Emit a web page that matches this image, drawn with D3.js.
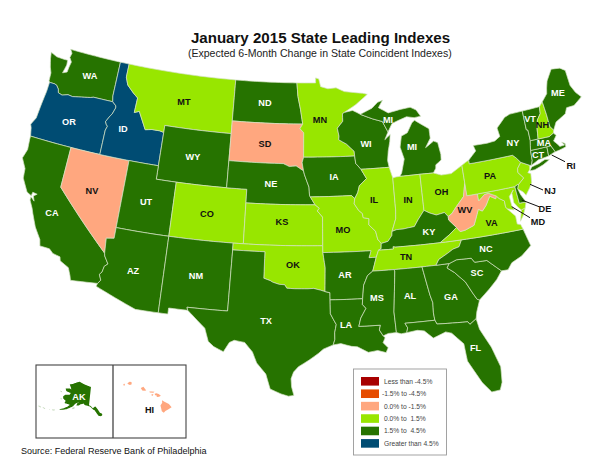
<!DOCTYPE html>
<html><head><meta charset="utf-8">
<script src="https://cdn.jsdelivr.net/npm/d3@7/dist/d3.min.js"></script>
<style>
html,body{margin:0;padding:0;background:#fff}
svg{display:block}
text{font-family:"Liberation Sans",Arial,sans-serif}
</style></head><body>
<svg id="c" width="600" height="463"></svg>
<script>
const titleText = "January 2015 State Leading Indexes";
const subtitleText = "(Expected 6-Month Change in State Coincident Indexes)";
const sourceText = "Source: Federal Reserve Bank of Philadelphia";
const classLabels = ["Less than -4.5%","-1.5% to -4.5%","0.0% to -1.5%","0.0% to  1.5%","1.5% to  4.5%","Greater than 4.5%"];
const classColors = ["#A80000","#E64C00","#FFA77F","#98E600","#267300","#004C73"];
const stateCodes = ["WA","OR","CA","NV","ID","MT","WY","UT","AZ","CO","NM","ND","SD","NE","KS","OK","TX","MN","IA","MO","AR","LA","WI","IL","MI","IN","OH","KY","TN","MS","AL","GA","FL","SC","NC","VA","WV","MD","DE","PA","NJ","NY","CT","RI","MA","VT","NH","ME"];
const stateClass = [4,5,4,2,5,3,4,4,4,3,4,4,2,4,3,3,4,3,4,3,4,4,4,3,4,3,3,4,3,4,4,4,4,4,4,3,2,3,4,3,3,4,4,4,4,4,3,4];

const geoWA=[[-124.73,48.38],[-124.6,47.9],[-124.35,47.3],[-124.1,46.9],[-124.05,46.3],[-123.95,46.2],[-123.4,46.2],[-123.15,46.15],[-122.85,45.9],[-122.75,45.65],[-122.3,45.55],[-121.7,45.7],[-121.2,45.65],[-120.6,45.74],[-119.95,45.83],[-119.3,45.93],[-119,46],[-116.92,46],[-117.04,46.42],[-117.04,49],[-122.76,49],[-122.5,48.75],[-122.6,48.4],[-122.3,48.1],[-122.4,47.7],[-122.45,47.3],[-122.9,47.15],[-122.7,47.8],[-122.75,48.15],[-123.2,48.15],[-124,48.17]];
const geoOR=[[-123.95,46.2],[-123.4,46.2],[-123.15,46.15],[-122.85,45.9],[-122.75,45.65],[-122.3,45.55],[-121.7,45.7],[-121.2,45.65],[-120.6,45.74],[-119.95,45.83],[-119.3,45.93],[-119,46],[-116.92,46],[-116.5,45.75],[-116.47,45.6],[-116.7,45.1],[-116.85,44.95],[-117.2,44.45],[-117.05,44.25],[-116.9,44.15],[-117.03,43.83],[-117.03,42],[-120,42],[-124.21,42],[-124.4,42.6],[-124.55,42.84],[-124.2,43.4],[-124.1,44.5],[-123.97,45.5]];
const geoCA=[[-124.21,42],[-120,42],[-120,39],[-114.63,35],[-114.57,34.8],[-114.15,34.27],[-114.43,34.05],[-114.53,33.6],[-114.72,33.4],[-114.5,33],[-114.72,32.72],[-117.12,32.53],[-117.25,32.85],[-117.55,33.4],[-118.4,33.75],[-118.5,34.03],[-119.2,34.15],[-119.6,34.42],[-120.5,34.45],[-120.65,34.9],[-121.35,35.7],[-121.9,36.6],[-122.1,36.96],[-122.5,37.5],[-122.5,37.75],[-122.1,37.5],[-122.3,37.85],[-122,38.05],[-122.45,38.1],[-122.5,37.83],[-122.98,38],[-123.7,38.9],[-123.8,39.6],[-124.35,40.3],[-124.1,41],[-124.2,41.75]];
const geoNV=[[-120,42],[-117.03,42],[-114.04,42],[-114.04,37],[-114.04,36.2],[-114.75,36.1],[-114.63,35],[-120,39]];
const geoID=[[-117.04,49],[-116.05,49],[-116.05,48],[-115.72,47.45],[-114.95,46.95],[-114.4,46.65],[-114.45,45.55],[-113.95,45.7],[-113.45,45.05],[-113,44.45],[-112.3,44.55],[-111.5,44.55],[-111.05,44.48],[-111.05,42],[-114.04,42],[-117.03,42],[-117.03,43.83],[-116.9,44.15],[-117.05,44.25],[-117.2,44.45],[-116.85,44.95],[-116.7,45.1],[-116.47,45.6],[-116.5,45.75],[-116.92,46],[-117.04,46.42]];
const geoMT=[[-116.05,49],[-104.05,49],[-104.05,45.94],[-104.05,45],[-111.05,45],[-111.05,44.48],[-111.5,44.55],[-112.3,44.55],[-113,44.45],[-113.45,45.05],[-113.95,45.7],[-114.45,45.55],[-114.4,46.65],[-114.95,46.95],[-115.72,47.45],[-116.05,48]];
const geoWY=[[-111.05,45],[-104.05,45],[-104.05,43],[-104.05,41],[-109.05,41],[-111.05,41],[-111.05,42],[-111.05,44.48]];
const geoUT=[[-114.04,42],[-111.05,42],[-111.05,41],[-109.05,41],[-109.05,37],[-114.04,37]];
const geoAZ=[[-114.04,37],[-109.05,37],[-109.05,31.33],[-111.07,31.33],[-114.81,32.5],[-114.72,32.72],[-114.5,33],[-114.72,33.4],[-114.53,33.6],[-114.43,34.05],[-114.15,34.27],[-114.57,34.8],[-114.63,35],[-114.75,36.1],[-114.04,36.2]];
const geoCO=[[-109.05,41],[-104.05,41],[-102.05,41],[-102.05,40],[-102.05,37],[-103,37],[-109.05,37]];
const geoNM=[[-109.05,37],[-103,37],[-103,36.5],[-103.05,32],[-106.62,32],[-106.53,31.78],[-108.21,31.78],[-108.21,31.33],[-109.05,31.33]];
const geoTX=[[-103,36.5],[-100,36.5],[-100,34.56],[-99.4,34.4],[-99.2,34.3],[-98.6,34.15],[-98.1,34.13],[-97.9,33.88],[-97.2,33.85],[-96.6,33.85],[-96,33.85],[-95.5,33.88],[-94.9,33.75],[-94.48,33.64],[-94.04,33.55],[-94.04,33.02],[-94.04,32],[-93.8,31.6],[-93.55,31.2],[-93.7,30.6],[-93.7,30.1],[-93.85,29.7],[-94.7,29.4],[-95.1,29.1],[-95.9,28.6],[-96.8,28.1],[-97.2,27.7],[-97.4,27.2],[-97.35,26.6],[-97.15,25.96],[-97.6,25.9],[-98.2,26.06],[-99.1,26.4],[-99.5,27.5],[-100.3,28.3],[-100.7,29.1],[-101.4,29.77],[-102.3,29.88],[-102.7,29.7],[-103.15,28.98],[-104,29.3],[-104.5,29.65],[-104.9,30.6],[-106,31.4],[-106.53,31.78],[-106.62,32],[-103.05,32]];
const geoOK=[[-103,37],[-102.05,37],[-94.62,37],[-94.62,36.5],[-94.43,35.4],[-94.48,33.64],[-94.9,33.75],[-95.5,33.88],[-96,33.85],[-96.6,33.85],[-97.2,33.85],[-97.9,33.88],[-98.1,34.13],[-98.6,34.15],[-99.2,34.3],[-99.4,34.4],[-100,34.56],[-100,36.5],[-103,36.5]];
const geoKS=[[-102.05,40],[-95.31,40],[-94.9,39.75],[-95.1,39.55],[-94.6,39.1],[-94.62,37],[-102.05,37]];
const geoNE=[[-104.05,43],[-98.5,43],[-97.9,42.8],[-97.2,42.85],[-96.45,42.49],[-96.35,42.2],[-96.1,41.7],[-95.9,41.3],[-95.85,40.7],[-95.77,40.58],[-95.31,40],[-102.05,40],[-102.05,41],[-104.05,41]];
const geoSD=[[-104.05,45.94],[-96.56,45.94],[-96.85,45.6],[-96.45,45.3],[-96.45,43.5],[-96.6,43.1],[-96.45,42.49],[-97.2,42.85],[-97.9,42.8],[-98.5,43],[-104.05,43],[-104.05,45]];
const geoND=[[-104.05,49],[-97.23,49],[-97.1,48],[-96.8,47],[-96.56,45.94],[-104.05,45.94]];
const geoMN=[[-97.23,49],[-95.15,49],[-95.15,49.38],[-94.8,49.3],[-94.6,48.72],[-93.8,48.55],[-92.9,48.6],[-92,48.3],[-91,48.2],[-90,48.1],[-89.5,48],[-90.8,47.3],[-92.1,46.75],[-92.3,46.66],[-92.3,46.1],[-92.9,45.6],[-92.75,45],[-92.8,44.75],[-92,44.4],[-91.25,43.85],[-91.22,43.5],[-96.45,43.5],[-96.45,45.3],[-96.85,45.6],[-96.56,45.94],[-96.8,47],[-97.1,48]];
const geoIA=[[-96.45,43.5],[-91.22,43.5],[-91.15,42.95],[-90.65,42.5],[-90.15,41.8],[-90.9,41.3],[-91.1,40.8],[-91.42,40.38],[-91.73,40.61],[-95.77,40.58],[-95.85,40.7],[-95.9,41.3],[-96.1,41.7],[-96.35,42.2],[-96.45,42.49],[-96.6,43.1]];
const geoMO=[[-95.77,40.58],[-91.73,40.61],[-91.42,40.38],[-91.5,40],[-91.1,39.5],[-90.75,39.25],[-90.7,38.95],[-90.15,38.85],[-90.2,38.4],[-89.6,37.9],[-89.45,37.3],[-89.15,36.98],[-89.2,36.6],[-89.45,36.5],[-89.7,36],[-90.37,36],[-90.15,36.5],[-94.62,36.5],[-94.62,37],[-94.6,39.1],[-95.1,39.55],[-94.9,39.75],[-95.31,40]];
const geoAR=[[-94.62,36.5],[-90.15,36.5],[-90.37,36],[-89.7,36],[-89.9,35.5],[-90.1,35],[-90.6,34.7],[-91,34],[-91.15,33.02],[-94.04,33.02],[-94.04,33.55],[-94.48,33.64],[-94.43,35.4]];
const geoLA=[[-94.04,33.02],[-91.15,33.02],[-91.2,32.6],[-90.9,32.3],[-91.4,31.6],[-91.6,31],[-89.73,31],[-89.85,30.65],[-89.55,30.2],[-89.4,30.05],[-89.6,29.7],[-89.2,29.3],[-89.4,28.95],[-90.1,29.15],[-90.9,29.05],[-91.8,29.5],[-92.3,29.55],[-93.2,29.78],[-93.85,29.7],[-93.7,30.1],[-93.7,30.6],[-93.55,31.2],[-93.8,31.6],[-94.04,32]];
const geoMS=[[-90.1,35],[-88.2,35],[-88.1,34.9],[-88.47,31.9],[-88.4,30.37],[-89.1,30.35],[-89.55,30.2],[-89.85,30.65],[-89.73,31],[-91.6,31],[-91.4,31.6],[-90.9,32.3],[-91.2,32.6],[-91.15,33.02],[-91,34],[-90.6,34.7]];
const geoTN=[[-90.1,35],[-89.9,35.5],[-89.7,36],[-89.45,36.5],[-88.05,36.5],[-88.07,36.67],[-87.85,36.63],[-83.68,36.6],[-81.68,36.59],[-82,36.12],[-82.6,36],[-83.1,35.77],[-84,35.4],[-84.32,35],[-85.6,35],[-88.2,35]];
const geoKY=[[-89.45,36.5],[-89.2,36.6],[-89.15,36.98],[-88.5,37.1],[-88.1,37.5],[-88.05,37.8],[-87.6,37.9],[-87,37.9],[-86.5,37.95],[-85.9,38],[-85.45,38.5],[-84.82,39.1],[-84.3,38.85],[-83.7,38.65],[-82.9,38.75],[-82.6,38.42],[-82.6,38.17],[-81.97,37.54],[-82.7,37.1],[-83.68,36.6],[-87.85,36.63],[-88.07,36.67],[-88.05,36.5]];
const geoIL=[[-90.65,42.5],[-87.8,42.5],[-87.55,41.75],[-87.53,41.7],[-87.53,39.35],[-87.6,38.7],[-88.05,37.8],[-88.1,37.5],[-88.5,37.1],[-89.15,36.98],[-89.45,37.3],[-89.6,37.9],[-90.2,38.4],[-90.15,38.85],[-90.7,38.95],[-90.75,39.25],[-91.1,39.5],[-91.5,40],[-91.42,40.38],[-91.1,40.8],[-90.9,41.3],[-90.15,41.8]];
const geoIN=[[-87.53,41.7],[-87.2,41.75],[-86.82,41.76],[-84.8,41.76],[-84.82,39.1],[-85.45,38.5],[-85.9,38],[-86.5,37.95],[-87,37.9],[-87.6,37.9],[-88.05,37.8],[-87.6,38.7],[-87.53,39.35]];
const geoOH=[[-84.8,41.76],[-83.45,41.73],[-82.7,41.5],[-81.7,41.5],[-80.52,41.98],[-80.52,40.64],[-80.65,40.3],[-80.85,39.7],[-81.75,39],[-82.2,38.6],[-82.6,38.42],[-82.9,38.75],[-83.7,38.65],[-84.3,38.85],[-84.82,39.1]];
const geoMIl=[[-86.82,41.76],[-84.8,41.76],[-83.45,41.73],[-83.15,42.05],[-83.1,42.3],[-82.5,42.6],[-82.45,43],[-82.6,43.9],[-83,44.05],[-83.9,43.65],[-83.3,44.3],[-83.3,45],[-84.7,45.75],[-85,45.6],[-85.6,44.9],[-86.25,44.7],[-86.5,43.9],[-86.2,43],[-86.6,42]];
const geoMIu=[[-90.4,46.55],[-89.1,46.95],[-88.45,47.35],[-87.9,47.47],[-88.4,46.95],[-87.4,46.5],[-86.1,46.67],[-85,46.75],[-84.4,46.5],[-84,46],[-84.7,45.95],[-85.5,46.08],[-86.5,45.85],[-87.1,45.7],[-87.6,45.1],[-88.1,45.9],[-89.1,46.15]];
const geoWI=[[-92.3,46.66],[-92.1,46.75],[-91.2,46.87],[-90.75,46.7],[-90.4,46.55],[-89.1,46.15],[-88.1,45.9],[-87.6,45.1],[-88,44.55],[-87.4,44.9],[-87.5,44.4],[-87.75,43.7],[-87.9,43],[-87.8,42.5],[-90.65,42.5],[-91.15,42.95],[-91.22,43.5],[-91.25,43.85],[-92,44.4],[-92.8,44.75],[-92.75,45],[-92.9,45.6],[-92.3,46.1]];
const geoAL=[[-88.2,35],[-85.6,35],[-85.17,32.87],[-85,32.3],[-85.05,31.55],[-85,31],[-87.6,31],[-87.4,30.65],[-87.52,30.3],[-88,30.25],[-88.4,30.37],[-88.47,31.9],[-88.1,34.9]];
const geoGA=[[-85.6,35],[-84.32,35],[-83.1,35],[-83.35,34.7],[-82.75,34.3],[-81.9,33.5],[-81.4,32.6],[-81.1,32.1],[-80.9,32.03],[-81.3,31.2],[-81.45,30.7],[-82.05,30.36],[-82.2,30.57],[-84.86,30.7],[-85,31],[-85.05,31.55],[-85,32.3],[-85.17,32.87]];
const geoFL=[[-87.6,31],[-85,31],[-84.86,30.7],[-82.2,30.57],[-82.05,30.36],[-81.45,30.7],[-81.3,29.9],[-80.55,28.45],[-80.05,26.9],[-80.15,25.75],[-80.4,25.2],[-81.1,25.15],[-81.75,25.95],[-82.1,26.6],[-82.7,27.7],[-82.8,29],[-83.7,29.9],[-84.2,30.05],[-85.3,29.7],[-86,30.3],[-86.6,30.4],[-87.52,30.3],[-87.4,30.65]];
const geoSC=[[-83.1,35],[-82.4,35.2],[-81.05,35.15],[-80.8,34.82],[-79.68,34.8],[-78.55,33.86],[-79.1,33.3],[-79.9,32.7],[-80.9,32.03],[-81.1,32.1],[-81.4,32.6],[-81.9,33.5],[-82.75,34.3],[-83.35,34.7]];
const geoNC=[[-84.32,35],[-84,35.4],[-83.1,35.77],[-82.6,36],[-82,36.12],[-81.68,36.59],[-75.87,36.55],[-75.5,35.25],[-76.5,34.65],[-77.5,34.3],[-77.95,33.85],[-78.55,33.86],[-79.68,34.8],[-80.8,34.82],[-81.05,35.15],[-82.4,35.2],[-83.1,35]];
const geoVA=[[-83.68,36.6],[-81.68,36.59],[-75.87,36.55],[-76,36.92],[-76.3,37],[-76.3,37.6],[-76.95,38.25],[-77.05,38.4],[-77.05,38.85],[-77.5,39.1],[-77.72,39.32],[-77.83,39.13],[-78.35,39.4],[-78.87,38.77],[-79.3,38.42],[-79.65,38.6],[-80.3,37.5],[-81.2,37.25],[-81.68,37.2],[-81.97,37.54],[-82.7,37.1]];
const geoVAe=[[-75.95,37.15],[-75.65,37.95],[-75.25,38.03],[-75.6,37.5]];
const geoWV=[[-82.6,38.42],[-82.2,38.6],[-81.75,39],[-80.85,39.7],[-80.65,40.3],[-80.52,40.64],[-80.52,39.72],[-79.48,39.72],[-79.48,39.2],[-78.8,39.6],[-78.4,39.62],[-77.72,39.32],[-77.83,39.13],[-78.35,39.4],[-78.87,38.77],[-79.3,38.42],[-79.65,38.6],[-80.3,37.5],[-81.2,37.25],[-81.68,37.2],[-81.97,37.54],[-82.6,38.17]];
const geoMD=[[-79.48,39.72],[-75.79,39.72],[-75.7,38.46],[-75.05,38.45],[-75.25,38.03],[-75.65,37.95],[-75.9,38.2],[-76.2,38.6],[-76.2,39.3],[-76,39.5],[-76.5,39.1],[-76.45,38.4],[-76.3,38.05],[-76.95,38.25],[-77.05,38.4],[-77.05,38.85],[-77.5,39.1],[-77.72,39.32],[-78.4,39.62],[-78.8,39.6],[-79.48,39.2]];
const geoDE=[[-75.79,39.72],[-75.5,39.83],[-75.4,39.8],[-75.55,39.5],[-75.4,39.05],[-75.05,38.45],[-75.7,38.46]];
const geoPA=[[-80.52,41.98],[-80.1,42.15],[-79.76,42.27],[-79.76,42],[-75.35,42],[-75.05,41.75],[-74.7,41.36],[-75.13,40.98],[-75.2,40.68],[-74.75,40.2],[-75.4,39.8],[-75.5,39.83],[-75.79,39.72],[-79.48,39.72],[-80.52,39.72],[-80.52,40.64]];
const geoNJ=[[-74.7,41.36],[-73.9,41],[-74,40.7],[-74.25,40.5],[-73.98,40.4],[-74.1,39.75],[-74.4,39.4],[-74.9,38.93],[-75.1,39.2],[-75.55,39.5],[-75.4,39.8],[-74.75,40.2],[-75.2,40.68],[-75.13,40.98]];
const geoNY=[[-79.76,42.27],[-79.76,42],[-75.35,42],[-75.05,41.75],[-74.7,41.36],[-73.9,41],[-73.73,40.98],[-73.55,41.3],[-73.48,42.05],[-73.27,42.75],[-73.25,43.55],[-73.4,43.6],[-73.35,45.01],[-74.7,45],[-75.3,44.85],[-76.3,44.2],[-76.2,43.55],[-76.8,43.3],[-77.6,43.25],[-79.05,43.27],[-78.9,42.85]];
const geoLI=[[-74,40.6],[-73.75,40.85],[-73,40.96],[-72.3,41.15],[-71.87,41.07],[-72.6,40.8],[-73.5,40.6]];
const geoVT=[[-73.35,45.01],[-71.5,45.01],[-71.6,44.5],[-72.05,44.1],[-72.3,43.5],[-72.46,42.73],[-73.27,42.75],[-73.25,43.55],[-73.4,43.6]];
const geoNH=[[-71.5,45.01],[-71.08,45.3],[-71,44.3],[-70.98,43.4],[-70.7,43.07],[-70.82,42.87],[-71.3,42.7],[-72.46,42.73],[-72.3,43.5],[-72.05,44.1],[-71.6,44.5]];
const geoME=[[-71.08,45.3],[-70.4,45.8],[-70.25,46.2],[-70,46.7],[-69.23,47.46],[-68.3,47.35],[-67.8,47.07],[-67.78,45.9],[-67.45,45.3],[-67,44.85],[-68,44.4],[-68.8,44.4],[-69.1,44],[-69.8,43.75],[-70.25,43.6],[-70.7,43.07],[-70.98,43.4],[-71,44.3]];
const geoMA=[[-73.48,42.05],[-73.27,42.75],[-72.46,42.73],[-71.3,42.7],[-70.82,42.87],[-70.6,42.65],[-71,42.3],[-70.65,41.95],[-70.55,41.8],[-70.05,41.8],[-70.25,42.07],[-69.95,41.9],[-69.97,41.65],[-70.65,41.55],[-71.12,41.5],[-71.2,41.67],[-71.33,41.9],[-71.38,42.02],[-71.8,42.02],[-72.8,42.03]];
const geoRI=[[-71.8,42.02],[-71.38,42.02],[-71.33,41.9],[-71.2,41.67],[-71.12,41.5],[-71.4,41.45],[-71.86,41.32]];
const geoCT=[[-73.48,42.05],[-72.8,42.03],[-71.8,42.02],[-71.86,41.32],[-72.9,41.25],[-73.73,40.98],[-73.55,41.3]];

const geoAK=[[-141,69.65],[-141,60.3],[-139.5,59.9],[-137.5,58.9],[-135.5,59.8],[-133.5,58.4],[-131.8,56.6],[-130,55.9],[-130.3,55],[-131.5,54.8],[-133,55],[-134.5,56.5],[-136,57.8],[-137.5,58.3],[-139.8,59.6],[-142.5,60],[-144.5,60.1],[-146,60.8],[-148.5,60.2],[-150,59.4],[-151.8,59.2],[-151.5,60.5],[-150,61.2],[-152.5,60.3],[-153.5,59.5],[-154.2,58.5],[-156.5,57.2],[-158.5,56.1],[-161,55.2],[-163,54.7],[-163.2,55.1],[-161,56],[-158.5,57.5],[-157.2,58.7],[-158.5,58.8],[-162,58.7],[-162,60],[-165,60.6],[-166,61.6],[-165,62.7],[-163,63.1],[-161,63.6],[-161,64.5],[-163,64.5],[-166,64.6],[-168,65.6],[-164,66.5],[-162,66.2],[-163.5,67.1],[-166.5,68.3],[-163,69.3],[-160,70.5],[-156.7,71.3],[-152,70.8],[-146,70.2]];
const geoAKi=[[[-154.6,57.4],[-153,58.2],[-152.3,57.7],[-153.6,56.9]],[[-171.7,63.4],[-170,63.7],[-168.8,63.2],[-170.3,63.1]],[[-167.2,60.2],[-165.8,60.4],[-165.8,59.9],[-166.8,59.8]],[[-168.2,53.5],[-166.2,54.0],[-166.2,53.4],[-167.5,53.1]],[[-170.5,52.9],[-169.4,53],[-169.4,52.7]],[[-174.7,52.4],[-172.9,52.5],[-172.9,52],[-174.7,52]],[[-178,52],[-176,52.1],[-176,51.6],[-178,51.6]]];
const geoHI=[[[-159.78,22.07],[-159.55,22.22],[-159.33,22.2],[-159.3,21.95],[-159.5,21.87],[-159.75,21.97]],[[-158.27,21.57],[-157.97,21.7],[-157.65,21.3],[-157.9,21.27],[-158.1,21.3]],[[-157.3,21.2],[-156.72,21.17],[-156.85,21.05],[-157.25,21.08]],[[-157.05,20.9],[-156.85,20.9],[-156.9,20.74],[-157.05,20.78]],[[-156.7,20.95],[-156.5,21],[-156.25,20.93],[-156,20.75],[-156.2,20.63],[-156.45,20.6],[-156.5,20.8],[-156.65,20.8]],[[-155.88,20.27],[-155.6,20.1],[-155.1,19.85],[-154.8,19.5],[-155.5,19.1],[-155.68,18.92],[-155.9,19.1],[-156.05,19.7],[-155.85,20]],[[-160.25,21.98],[-160.1,22],[-160.07,21.85],[-160.2,21.8]]];

const stateParts = [[geoWA],[geoOR],[geoCA],[geoNV],[geoID],[geoMT],[geoWY],[geoUT],[geoAZ],[geoCO],[geoNM],[geoND],[geoSD],[geoNE],[geoKS],[geoOK],[geoTX],[geoMN],[geoIA],[geoMO],[geoAR],[geoLA],[geoWI],[geoIL],[geoMIl,geoMIu],[geoIN],[geoOH],[geoKY],[geoTN],[geoMS],[geoAL],[geoGA],[geoFL],[geoSC],[geoNC],[geoVA,geoVAe],[geoWV],[geoMD],[geoDE],[geoPA],[geoNJ],[geoNY,geoLI],[geoCT],[geoRI],[geoMA],[geoVT],[geoNH],[geoME]];

// label layout (pixels)
const labelLayout = [["WA",90,76],["OR",69,121.5],["CA",52,213],["NV",92,191],["ID",123,129],["MT",184,101.5],["WY",193,157],["UT",146,202],["AZ",133,271],["CO",207,214],["NM",196,276],["ND",265,103],["SD",265,144],["NE",271,184],["KS",282,222],["OK",293,265],["TX",266,321],["MN",320,120],["IA",334,177],["MO",343,230],["AR",345,275],["LA",346,325],["WI",366,144],["IL",374,200],["MI",388,120],["MI",412,147],["IN",408,200],["OH",441.5,192],["KY",429,232],["TN",406,257],["MS",377,298],["AL",410,296],["GA",451,297],["FL",475.5,348],["SC",477,273],["NC",486,249],["VA",491.5,223],["WV",465,210],["PA",490,176],["NY",513,143],["VT",530,119],["NH",542.5,125],["ME",558,92.5],["MA",544,143],["CT",538,155],["NJ",550,191],["DE",545,209],["MD",538,222],["RI",571,165.5]];
const calloutLayout = [[551.7,155,565,161.7],[530,184.3,543,190],[521.7,200,539,206.7],[511.7,206.7,530,217.7]];

function densify(ring){
  const out=[];
  ring.forEach((p,i)=>{
    const q=ring[(i+1)%ring.length];
    const n=Math.max(1,Math.ceil(Math.max(Math.abs(q[0]-p[0]),Math.abs(q[1]-p[1]))/0.5));
    for(let k=0;k<n;k++) out.push([p[0]+(q[0]-p[0])*k/n,p[1]+(q[1]-p[1])*k/n]);
  });
  out.push(out[0].slice());
  return out;
}
function polygonOf(ring){
  let r=densify(ring);
  if(d3.geoArea({type:"Polygon",coordinates:[r]})>2*Math.PI) r=r.slice().reverse();
  return [r];
}
function feature(parts){return {type:"MultiPolygon",coordinates:parts.map(polygonOf)};}

const albers=d3.geoConicEqualArea().parallels([29.5,45.5]).rotate([96,0]).center([0,37.5]).scale(775).translate([308,239]).precision(0.1);
const akBase=d3.geoConicEqualArea().parallels([55,65]).rotate([135,0]).center([-6,65]).scale(132).translate([90,396]).precision(0.1);
const akSquash=d3.geoTransform({point(x,y){this.stream.point(x,396+(y-396)*0.85);}});
const akProj={stream:s=>akBase.stream(akSquash.stream(s))};
const hiProj=d3.geoConicEqualArea().parallels([8,18]).rotate([157,0]).center([0,20.5]).scale(540).translate([152,398]).precision(0.1);

const svg=d3.select("#c");
svg.append("rect").attr("width",600).attr("height",463).attr("fill","#fff");

svg.append("text").attr("x",320.5).attr("y",42.7).attr("text-anchor","middle").attr("font-size",15.1).attr("font-weight","bold").attr("fill","#111").text(titleText);
svg.append("text").attr("x",319.8).attr("y",56.7).attr("text-anchor","middle").attr("font-size",10.55).attr("fill","#222").text(subtitleText);

const path=d3.geoPath(albers);
svg.append("g").selectAll("path").data(stateCodes).join("path")
  .attr("d",(c,i)=>path(feature(stateParts[i])))
  .attr("fill",(c,i)=>classColors[stateClass[i]])
  .attr("stroke","#d4e2c4").attr("stroke-width",0.7).attr("stroke-linejoin","round");

svg.append("path").attr("d",d3.geoPath(akProj)(feature([geoAK]))).attr("fill",classColors[4]);
svg.append("path").attr("d",d3.geoPath(akProj)(feature(geoAKi))).attr("fill","#9fbf90").attr("opacity",0.6);
svg.append("path").attr("d",d3.geoPath(hiProj)(feature(geoHI))).attr("fill",classColors[2]);

// inset frames
svg.append("rect").attr("x",36).attr("y",365).attr("width",150).attr("height",73).attr("fill","none").attr("stroke","#444").attr("stroke-width",1.1);
svg.append("line").attr("x1",113).attr("x2",113).attr("y1",365).attr("y2",438).attr("stroke","#444").attr("stroke-width",1.3);

// callouts
svg.append("g").selectAll("line").data(calloutLayout).join("line")
  .attr("x1",d=>d[0]).attr("y1",d=>d[1]).attr("x2",d=>d[2]).attr("y2",d=>d[3]).attr("stroke","#111").attr("stroke-width",1);

// labels
const classOf=c=>stateClass[stateCodes.indexOf(c)];
const allLabels=labelLayout.concat([["AK",79,397],["HI",149.5,410]]);
svg.append("g").selectAll("text").data(allLabels).join("text")
  .attr("x",d=>d[1]).attr("y",d=>d[2]+3.3).attr("text-anchor","middle")
  .attr("font-size",9.2).attr("font-weight","bold")
  .attr("fill",d=>{
    if(["NJ","DE","MD","RI","HI"].includes(d[0])) return "#111";
    if(d[0]==="AK") return "#fff";
    const k=classOf(d[0]); return (k===2||k===3)?"#111":"#fff";
  }).text(d=>d[0]);

// legend
svg.append("rect").attr("x",353.5).attr("y",369).attr("width",93).attr("height",86).attr("fill","#fff").attr("stroke","#999").attr("stroke-width",0.9);
const legendY=d3.scaleBand().domain(classLabels).range([375,449.5]);
const lg=svg.append("g").selectAll("g").data(classLabels).join("g").attr("transform",d=>`translate(0,${legendY(d)})`);
lg.append("rect").attr("x",361).attr("y",2).attr("width",18).attr("height",8.6).attr("fill",(d,i)=>classColors[i]);
lg.append("text").attr("x",d=>d.startsWith("-")?382:384).attr("y",8.7).attr("font-size",6.7).attr("fill","#444").attr("xml:space","preserve").style("white-space","pre").text(d=>d);

svg.append("text").attr("x",21).attr("y",454).attr("font-size",9.05).attr("fill","#111").text(sourceText);
</script></body></html>
